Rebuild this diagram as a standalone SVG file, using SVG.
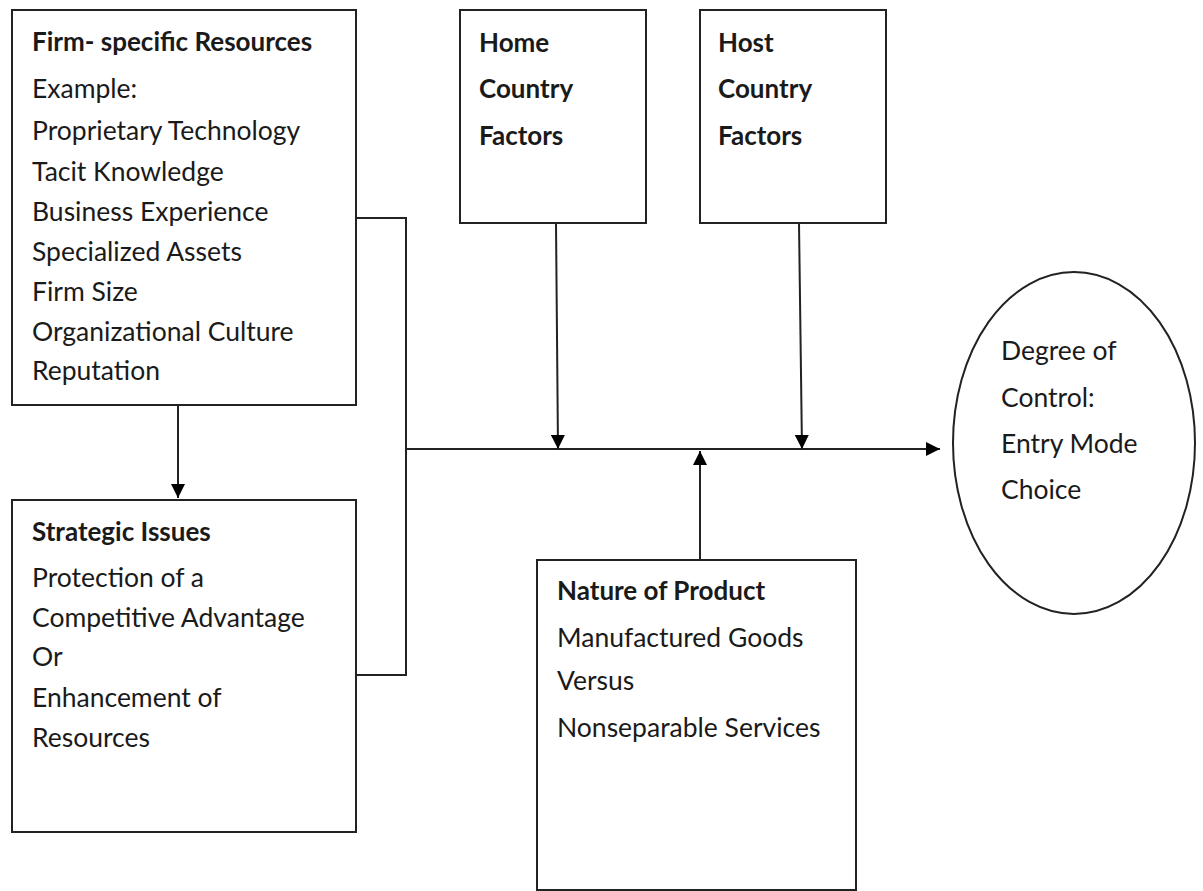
<svg xmlns="http://www.w3.org/2000/svg" width="1203" height="891" viewBox="0 0 1203 891">
<defs>
<marker id="ah" viewBox="0 0 10 10" refX="10" refY="5" markerWidth="14" markerHeight="14" markerUnits="userSpaceOnUse" orient="auto">
<path d="M0,0 L10,5 L0,10 Z" fill="#000"/>
</marker>
</defs>
<style>
.box{fill:#fff;stroke:#222;stroke-width:2}
.t{font-family:Lato,"Liberation Sans",sans-serif;font-size:26.5px;fill:#1a1a1a}
.b{font-weight:bold;font-size:26px}
.c{fill:none;stroke:#222;stroke-width:2}
</style>
<rect width="1203" height="891" fill="#fff"/>
<g id="firm-resources">
<rect class="box" x="12" y="10" width="344" height="395"/>
<text class="t b" x="32" y="51">Firm- specific Resources</text>
<text class="t" x="32" y="98">Example:</text>
<text class="t" x="32" y="140">Proprietary Technology</text>
<text class="t" x="32" y="181">Tacit Knowledge</text>
<text class="t" x="32" y="221">Business Experience</text>
<text class="t" x="32" y="261">Specialized Assets</text>
<text class="t" x="32" y="301">Firm Size</text>
<text class="t" x="32" y="341">Organizational Culture</text>
<text class="t" x="32" y="380">Reputation</text>
</g>
<g id="strategic-issues">
<rect class="box" x="12" y="500" width="344" height="332"/>
<text class="t b" x="32" y="541">Strategic Issues</text>
<text class="t" x="32" y="587">Protection of a</text>
<text class="t" x="32" y="627">Competitive Advantage</text>
<text class="t" x="32" y="666">Or</text>
<text class="t" x="32" y="707">Enhancement of</text>
<text class="t" x="32" y="747">Resources</text>
</g>
<g id="home-country">
<rect class="box" x="460" y="10" width="186" height="213"/>
<text class="t b" x="479" y="52">Home</text>
<text class="t b" x="479" y="98">Country</text>
<text class="t b" x="479" y="145">Factors</text>
</g>
<g id="host-country">
<rect class="box" x="700" y="10" width="186" height="213"/>
<text class="t b" x="718" y="52">Host</text>
<text class="t b" x="718" y="98">Country</text>
<text class="t b" x="718" y="145">Factors</text>
</g>
<g id="nature-product">
<rect class="box" x="537" y="560" width="319" height="330"/>
<text class="t b" x="557" y="600">Nature of Product</text>
<text class="t" x="557" y="647">Manufactured Goods</text>
<text class="t" x="557" y="690">Versus</text>
<text class="t" x="557" y="737">Nonseparable Services</text>
</g>
<g id="entry-mode">
<ellipse cx="1074" cy="443" rx="121" ry="171" fill="#fff" stroke="#222" stroke-width="2"/>
<text class="t" x="1001" y="360">Degree of</text>
<text class="t" x="1001" y="407">Control:</text>
<text class="t" x="1001" y="453">Entry Mode</text>
<text class="t" x="1001" y="499">Choice</text>
</g>
<g id="connectors">
<polyline class="c" points="356,218 406,218 406,675 356,675"/>
<line class="c" x1="178" y1="405" x2="178" y2="498" marker-end="url(#ah)"/>
<line class="c" x1="406" y1="449" x2="940" y2="449" marker-end="url(#ah)"/>
<line class="c" x1="556" y1="223" x2="558" y2="449" marker-end="url(#ah)"/>
<line class="c" x1="799" y1="223" x2="802" y2="449" marker-end="url(#ah)"/>
<line class="c" x1="700" y1="560" x2="700" y2="451" marker-end="url(#ah)"/>
</g>
</svg>
